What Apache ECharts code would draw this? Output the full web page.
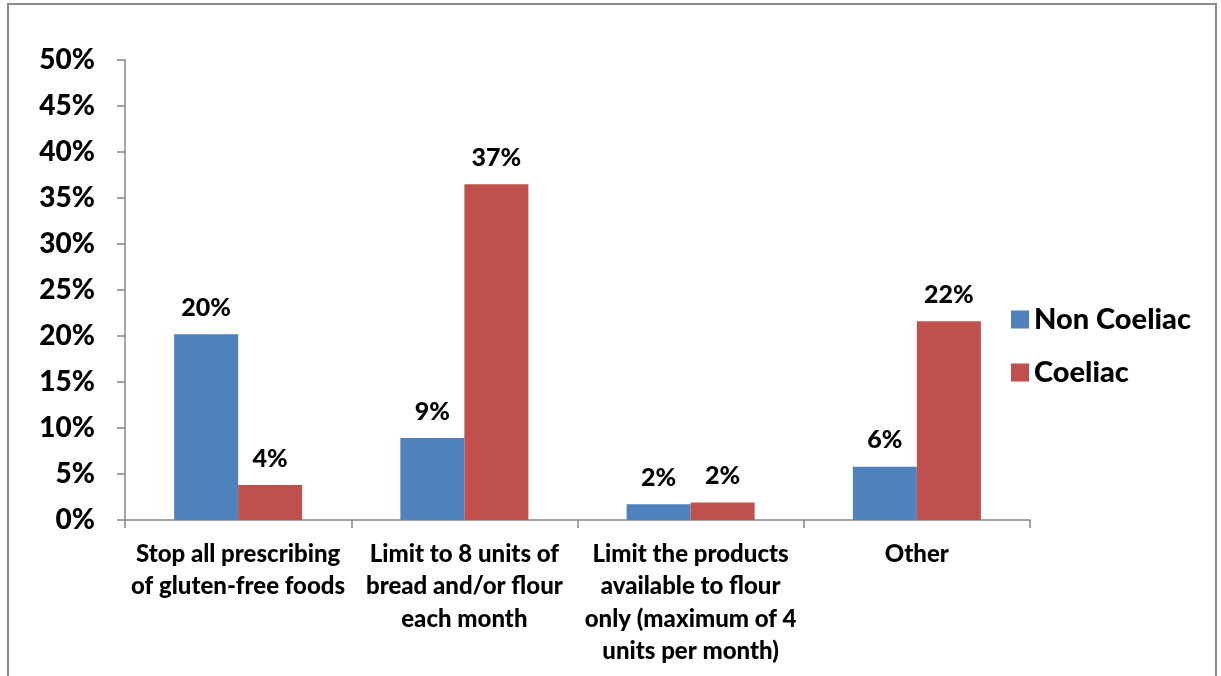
<!DOCTYPE html>
<html>
<head>
<meta charset="utf-8">
<script src="https://cdn.jsdelivr.net/npm/echarts@6/dist/echarts.min.js"></script>
<style>
  html, body { margin: 0; padding: 0; background: #fff; }
  #frame { position: absolute; left: 7px; top: 3px; width: 1210px; height: 690px;
           border: 2px solid #8a8a8a; border-bottom: none; box-sizing: border-box; }
  #chart { position: absolute; left: 0; top: 0; width: 1221px; height: 676px; }
</style>
</head>
<body>
<div id="frame"></div>
<div id="chart"></div>
<script>
// Responses to the proposed prescribing options, by respondent group (percent)
const categories = [
  'Stop all prescribing\nof gluten-free foods',
  'Limit to 8 units of\nbread and/or flour\neach month',
  'Limit the products\navailable to flour\nonly (maximum of 4\nunits per month)',
  'Other'
];
const nonCoeliac = [20.2, 8.9, 1.7, 5.8];
const coeliac = [3.8, 36.5, 1.9, 21.6];
const yTicks = [0, 5, 10, 15, 20, 25, 30, 35, 40, 45, 50];

const FONT = 'Lato';
const WEIGHT = 900;
const axisGrey = '#868686';

const chart = echarts.init(document.getElementById('chart'), null, { renderer: 'canvas' });

const valueLabel = {
  show: true,
  position: 'top',
  distance: 14,
  fontFamily: FONT,
  fontWeight: WEIGHT,
  fontSize: 25,
  color: '#000',
  formatter: p => Math.round(p.value) + '%'
};

chart.setOption({
  animation: false,
  backgroundColor: 'transparent',
  grid: { left: 125, right: 191, top: 60, bottom: 156, containLabel: false },
  legend: {
    orient: 'vertical',
    left: 1006,
    top: 300,
    itemWidth: 18,
    itemHeight: 18,
    itemGap: 24,
    icon: 'rect',
    textStyle: { fontFamily: FONT, fontWeight: WEIGHT, fontSize: 29, color: '#000', padding: [0, 0, 0, 0] },
    data: ['Non Coeliac', 'Coeliac']
  },
  xAxis: {
    type: 'category',
    data: categories,
    axisLine: { lineStyle: { color: axisGrey, width: 1.5 } },
    axisTick: { show: true, alignWithLabel: false, length: 8, inside: false, lineStyle: { color: axisGrey, width: 1.5 } },
    axisLabel: {
      interval: 0,
      margin: 18,
      fontFamily: FONT,
      fontWeight: WEIGHT,
      fontSize: 24,
      lineHeight: 32.5,
      color: '#000',
      align: 'center'
    }
  },
  yAxis: {
    type: 'value',
    min: yTicks[0],
    max: yTicks[yTicks.length - 1],
    interval: yTicks[1] - yTicks[0],
    splitLine: { show: false },
    axisLine: { show: true, lineStyle: { color: axisGrey, width: 1.5 } },
    axisTick: { show: true, length: 8, lineStyle: { color: axisGrey, width: 1.5 } },
    axisLabel: {
      margin: 30,
      fontFamily: FONT,
      fontWeight: WEIGHT,
      fontSize: 28,
      color: '#000',
      formatter: v => v + '%'
    }
  },
  series: [
    {
      name: 'Non Coeliac',
      type: 'bar',
      data: nonCoeliac,
      barWidth: 64,
      barGap: '0%',
      itemStyle: { color: '#4F81BD' },
      label: valueLabel
    },
    {
      name: 'Coeliac',
      type: 'bar',
      data: coeliac,
      barWidth: 64,
      barGap: '0%',
      itemStyle: { color: '#C0504D' },
      label: valueLabel
    }
  ]
});
</script>
</body>
</html>
